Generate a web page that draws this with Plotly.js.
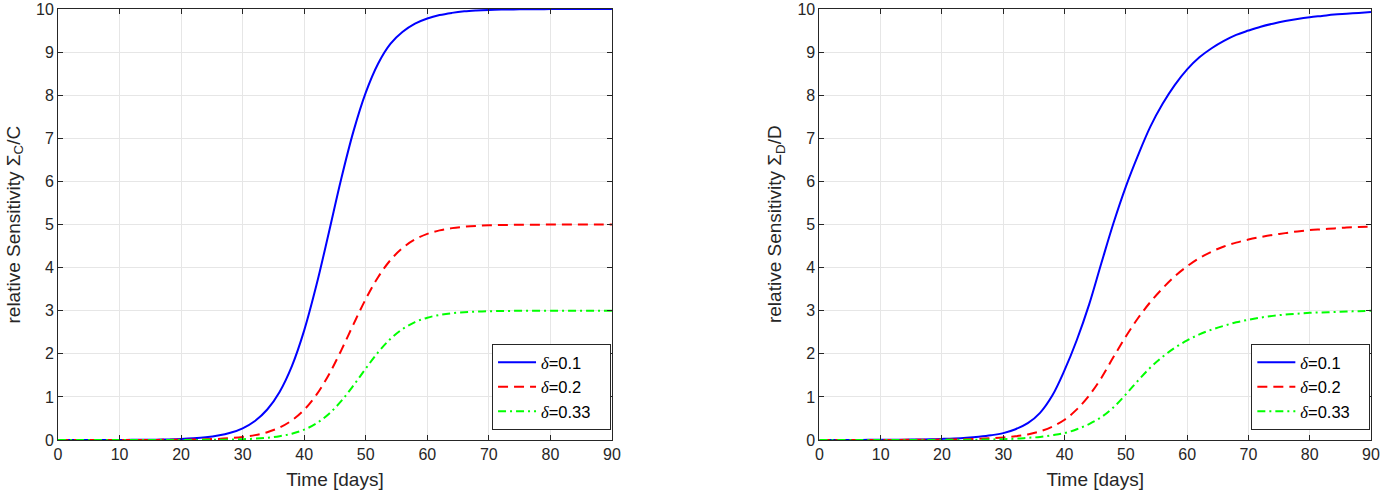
<!DOCTYPE html>
<html>
<head>
<meta charset="utf-8">
<script src="https://cdn.plot.ly/plotly-3.0.1.min.js"></script>
<style>
  html, body { margin: 0; padding: 0; background: #fff; }
  #chart { width: 1381px; height: 493px; }
</style>
</head>
<body>
<div id="chart"></div>
<script>
  // ── Data ───────────────────────────────────────────────────
  const days = [0, 2, 4, 6, 8, 10, 12, 14, 16, 18, 20, 22, 24, 26, 28, 30, 32, 34, 36, 38, 40, 42, 44,
                46, 48, 50, 52, 54, 56, 58, 60, 62, 64, 66, 68, 70, 72, 74, 76, 78, 80, 82, 84, 86, 88, 90];

  // left panel: relative sensitivity Sigma_C / C
  const sensC_d010 = [0.000, 0.000, 0.000, 0.001, 0.001, 0.002, 0.003, 0.005, 0.008, 0.014, 0.023, 0.038,
                      0.062, 0.102, 0.167, 0.272, 0.442, 0.708, 1.116, 1.715, 2.544, 3.60, 4.81, 6.05,
                      7.16, 8.06, 8.73, 9.19, 9.47, 9.66, 9.78, 9.86, 9.91, 9.945, 9.965, 9.978, 9.986,
                      9.991, 9.994, 9.996, 9.998, 9.999, 9.999, 10.0, 10.0, 10.0];
  const sensC_d020 = [0.000, 0.000, 0.000, 0.000, 0.000, 0.001, 0.001, 0.001, 0.002, 0.004, 0.006, 0.010,
                      0.016, 0.026, 0.043, 0.070, 0.113, 0.181, 0.289, 0.456, 0.703, 1.053, 1.515, 2.075,
                      2.684, 3.27, 3.776, 4.172, 4.458, 4.653, 4.782, 4.864, 4.916, 4.948, 4.968, 4.980,
                      4.988, 4.993, 4.996, 4.997, 4.998, 4.999, 4.999, 5.0, 5.0, 5.0];
  const sensC_d033 = [0.000, 0.000, 0.000, 0.000, 0.000, 0.000, 0.000, 0.000, 0.000, 0.001, 0.001, 0.002,
                      0.004, 0.006, 0.011, 0.018, 0.031, 0.052, 0.088, 0.146, 0.240, 0.387, 0.604, 0.90,
                      1.264, 1.658, 2.033, 2.344, 2.575, 2.735, 2.838, 2.902, 2.942, 2.965, 2.979, 2.988,
                      2.993, 2.996, 2.997, 2.998, 2.999, 2.999, 3.0, 3.0, 3.0, 3.0];

  // right panel: relative sensitivity Sigma_D / D
  const sensD_d010 = [0.001, 0.001, 0.002, 0.002, 0.003, 0.004, 0.006, 0.008, 0.012, 0.017, 0.025, 0.036,
                      0.053, 0.077, 0.11, 0.16, 0.25, 0.39, 0.63, 1.03, 1.62, 2.32, 3.14, 4.10,
                      5.04, 5.88, 6.61, 7.27, 7.80, 8.24, 8.60, 8.88, 9.09, 9.26, 9.40, 9.50, 9.59,
                      9.66, 9.72, 9.77, 9.81, 9.84, 9.87, 9.89, 9.91, 9.93];
  const sensD_d020 = [0.000, 0.000, 0.001, 0.001, 0.001, 0.002, 0.002, 0.003, 0.005, 0.007, 0.010, 0.014,
                      0.020, 0.029, 0.041, 0.058, 0.085, 0.13, 0.20, 0.31, 0.47, 0.71, 1.03, 1.44,
                      1.93, 2.40, 2.83, 3.20, 3.52, 3.80, 4.03, 4.22, 4.37, 4.49, 4.58, 4.65, 4.71,
                      4.76, 4.80, 4.84, 4.87, 4.89, 4.91, 4.93, 4.94, 4.95];
  const sensD_d033 = [0.000, 0.000, 0.000, 0.000, 0.000, 0.000, 0.000, 0.000, 0.001, 0.002, 0.003, 0.004,
                      0.006, 0.009, 0.013, 0.02, 0.03, 0.05, 0.07, 0.11, 0.16, 0.25, 0.37, 0.53,
                      0.76, 1.06, 1.38, 1.68, 1.93, 2.14, 2.31, 2.45, 2.56, 2.65, 2.73, 2.79, 2.84,
                      2.88, 2.91, 2.93, 2.95, 2.96, 2.97, 2.98, 2.99, 3.0];

  const deltaLabels = ['0.1', '0.2', '0.33'];
  const xTicks = [0, 10, 20, 30, 40, 50, 60, 70, 80, 90];
  const yTicks = [0, 1, 2, 3, 4, 5, 6, 7, 8, 9, 10];

  /* ── Styles ─────────────────────────────────────────────── */
  const FONT = 'Liberation Sans, Arial, Helvetica, sans-serif';
  const INK  = '#262626';

  const LINES = [
    { color: '#0000ff', width: 2 },
    { color: '#ff0000', width: 2, dash: '10px,6px' },
    { color: '#00ff00', width: 2, dash: '8px,4px,2px,4px' },
  ];

  // italic delta like the TeX legend; trailing no-break spaces widen the box a little
  function deltaName(v) {
    return '<span style="font-family:\'Liberation Serif\';font-style:italic">δ</span>=' + v + '\u00a0\u00a0\u00a0';
  }

  function makeTraces(series, xa, ya, legendId) {
    return series.map((vals, i) => ({
      x: days, y: vals,
      type: 'scatter', mode: 'lines',
      name: deltaName(deltaLabels[i]),
      line: { ...LINES[i], shape: 'spline' },
      xaxis: xa, yaxis: ya,
      legend: legendId,
      hoverinfo: 'x+y',
    }));
  }

  const traces = [
    ...makeTraces([sensC_d010, sensC_d020, sensC_d033], 'x', 'y', 'legend'),
    ...makeTraces([sensD_d010, sensD_d020, sensD_d033], 'x2', 'y2', 'legend2'),
  ];

  const axisBase = {
    showline: true, linecolor: INK, linewidth: 1, mirror: 'ticks',
    ticks: 'inside', ticklen: 5, tickcolor: INK, tickwidth: 1,
    showgrid: true, gridcolor: '#e6e6e6', gridwidth: 1, zeroline: false,
    tickfont: { family: FONT, size: 16, color: INK },
    ticklabeloverflow: 'allow',
    fixedrange: true, tickmode: 'array',
  };

  const titleFont = { family: FONT, size: 19, color: INK };

  const xBase = {
    ...axisBase, range: [0, 90], tickvals: xTicks,
    title: { text: 'Time [days]', font: titleFont, standoff: 10 },
  };
  const yBase = { ...axisBase, range: [0, 10], tickvals: yTicks };

  const legendBase = {
    xanchor: 'right', yanchor: 'bottom', y: 0.023,
    bgcolor: '#ffffff', bordercolor: INK, borderwidth: 1,
    font: { family: FONT, size: 16.5, color: '#000' },
    itemwidth: 38, tracegroupgap: 0,
  };

  // y titles as rotated annotations so they sit where the reference has them
  function yTitle(text, xPaper) {
    return {
      text, textangle: -90, showarrow: false,
      xref: 'paper', yref: 'paper', x: xPaper, y: 0.5,
      xanchor: 'center', yanchor: 'middle',
      font: titleFont,
    };
  }

  const layout = {
    width: 1381, height: 493,
    paper_bgcolor: '#fff', plot_bgcolor: '#fff',
    font: { family: FONT, color: INK },
    margin: { l: 58, r: 10, t: 9, b: 53 },
    showlegend: true,
    xaxis:  { ...xBase, domain: [0, 0.4219], anchor: 'y' },
    yaxis:  { ...yBase, domain: [0, 1], anchor: 'x' },
    xaxis2: { ...xBase, domain: [0.5799, 1], anchor: 'y2' },
    yaxis2: { ...yBase, domain: [0, 1], anchor: 'x2' },
    legend:  { ...legendBase, x: 0.4212 },
    legend2: { ...legendBase, x: 0.9995 },
    annotations: [
      yTitle('relative Sensitivity Σ<sub>C</sub>/C', -0.0335),
      yTitle('relative Sensitivity Σ<sub>D</sub>/D', 0.5465),
    ],
  };

  Plotly.newPlot('chart', traces, layout, { displayModeBar: false, staticPlot: true });
</script>
</body>
</html>
